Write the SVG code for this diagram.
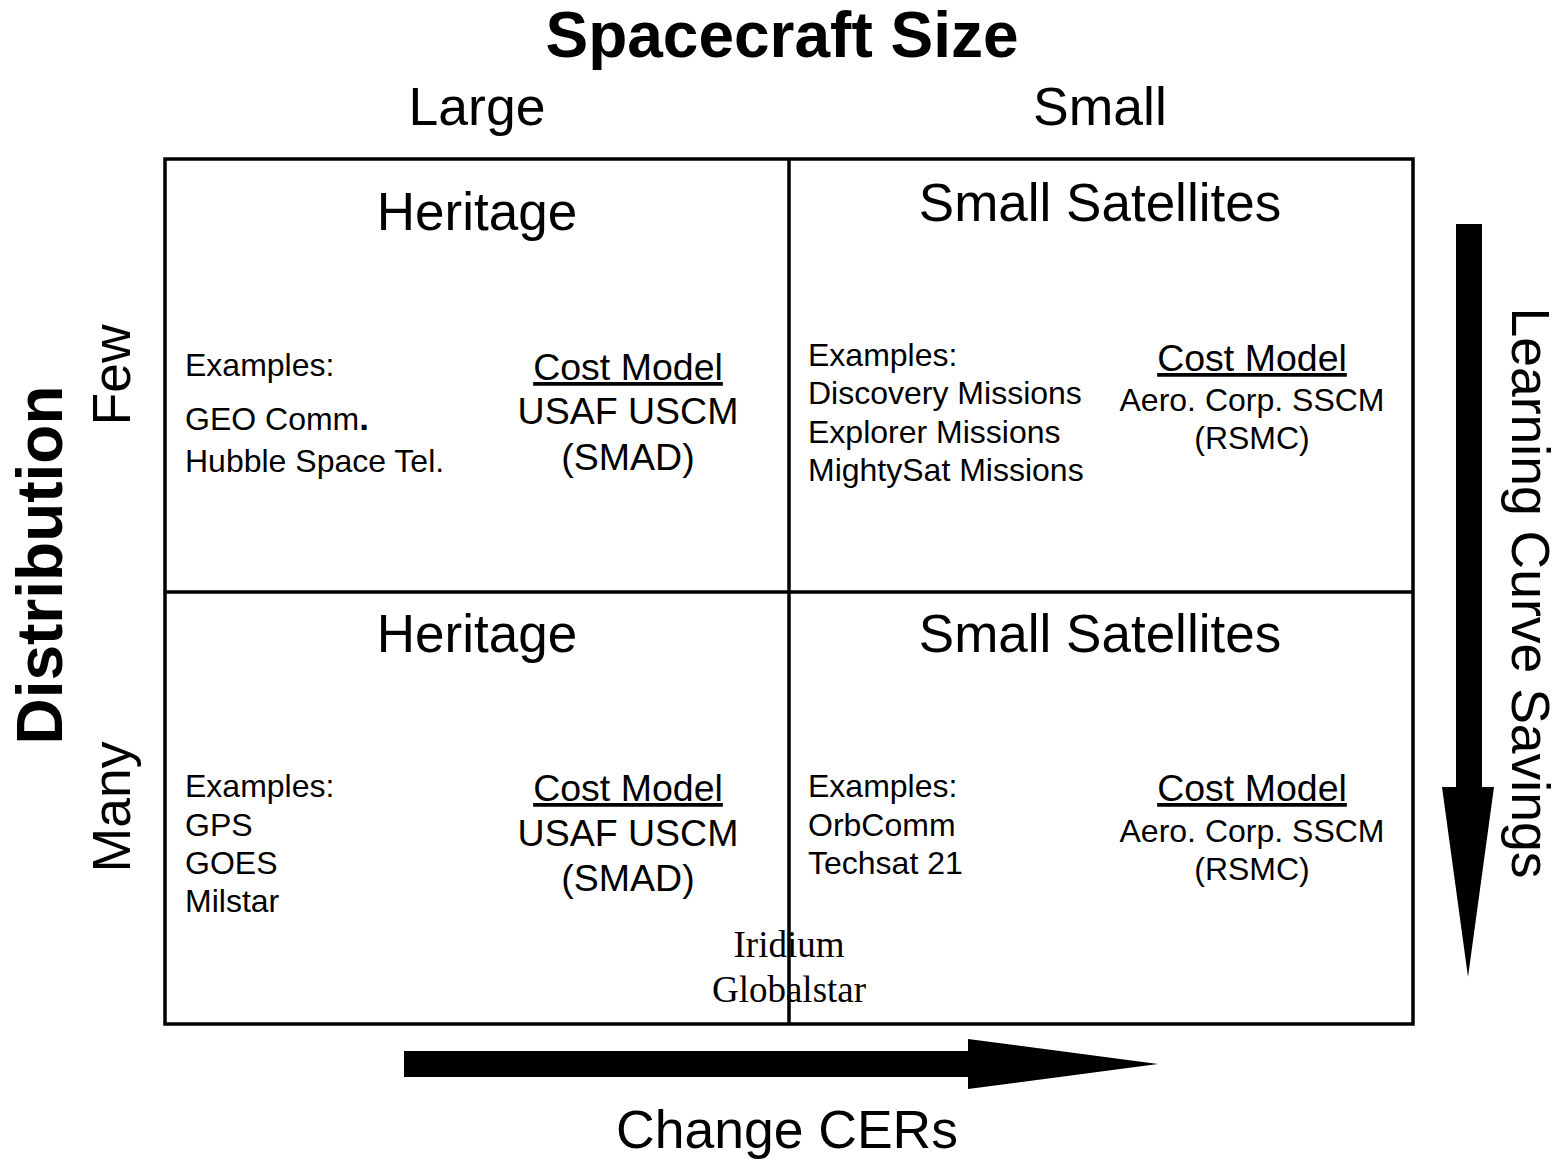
<svg xmlns="http://www.w3.org/2000/svg" width="1560" height="1159" viewBox="0 0 1560 1159">
<style>
text{font-family:"Liberation Sans",Arial,sans-serif;fill:#000}
.title{font-size:64px;font-weight:bold}
.axis{font-size:53.5px}
.head{font-size:53px;text-anchor:middle}
.ex{font-size:32px}
.cm{font-size:37.5px;text-anchor:middle}
.cmu{font-size:37.5px;text-anchor:middle;text-decoration:underline}
.aero{font-size:32px;text-anchor:middle}
.serif{font-family:"Liberation Serif","Times New Roman",serif;font-size:37px;text-anchor:middle}
.grid{fill:none;stroke:#000;stroke-width:3.5}
</style>
<rect width="1560" height="1159" fill="#fff"/>
<g id="grid">
<rect class="grid" x="165" y="159" width="1248" height="865"/>
<line class="grid" x1="789" y1="159" x2="789" y2="1024"/>
<line class="grid" x1="165" y1="592" x2="1413" y2="592"/>
</g>
<g id="axis-labels">
<text class="title" x="782" y="57" text-anchor="middle">Spacecraft Size</text>
<text class="axis" x="477" y="125" text-anchor="middle">Large</text>
<text class="axis" x="1100" y="125" text-anchor="middle">Small</text>
<text class="title" transform="translate(62,565) rotate(-90)" text-anchor="middle">Distribution</text>
<text class="axis" transform="translate(130,375) rotate(-90)" text-anchor="middle">Few</text>
<text class="axis" transform="translate(130,807) rotate(-90)" text-anchor="middle">Many</text>
<text class="axis" transform="translate(1512,593) rotate(90)" text-anchor="middle">Learning Curve Savings</text>
<text class="axis" x="787" y="1148" text-anchor="middle">Change CERs</text>
</g>
<g id="q-top-left">
<text class="head" x="477" y="230">Heritage</text>
<text class="ex" x="185" y="376">Examples:</text>
<text class="ex" x="185" y="430">GEO Comm<tspan font-weight="bold" font-size="35px">.</tspan></text>
<text class="ex" x="185" y="472">Hubble Space Tel.</text>
<text class="cmu" x="628" y="380">Cost Model</text>
<text class="cm" x="628" y="424">USAF USCM</text>
<text class="cm" x="628" y="470">(SMAD)</text>
</g>
<g id="q-top-right">
<text class="head" x="1100" y="221">Small Satellites</text>
<text class="ex" x="808" y="366">Examples:</text>
<text class="ex" x="808" y="404">Discovery Missions</text>
<text class="ex" x="808" y="443">Explorer Missions</text>
<text class="ex" x="808" y="481">MightySat Missions</text>
<text class="cmu" x="1252" y="371">Cost Model</text>
<text class="aero" x="1252" y="411">Aero. Corp. SSCM</text>
<text class="aero" x="1252" y="449">(RSMC)</text>
</g>
<g id="q-bottom-left">
<text class="head" x="477" y="652">Heritage</text>
<text class="ex" x="185" y="797">Examples:</text>
<text class="ex" x="185" y="836">GPS</text>
<text class="ex" x="185" y="874">GOES</text>
<text class="ex" x="185" y="912">Milstar</text>
<text class="cmu" x="628" y="801">Cost Model</text>
<text class="cm" x="628" y="846">USAF USCM</text>
<text class="cm" x="628" y="891">(SMAD)</text>
</g>
<g id="q-bottom-right">
<text class="head" x="1100" y="652">Small Satellites</text>
<text class="ex" x="808" y="797">Examples:</text>
<text class="ex" x="808" y="836">OrbComm</text>
<text class="ex" x="808" y="874">Techsat 21</text>
<text class="cmu" x="1252" y="801">Cost Model</text>
<text class="aero" x="1252" y="842">Aero. Corp. SSCM</text>
<text class="aero" x="1252" y="880">(RSMC)</text>
</g>
<g id="boundary-examples">
<text class="serif" x="789" y="957">Iridium</text>
<text class="serif" x="789" y="1002">Globalstar</text>
</g>
<g id="connectors">
<polygon points="404,1051 968,1051 968,1039 1158,1064 968,1089 968,1077 404,1077" fill="#000"/>
<polygon points="1456,224 1482,224 1482,787 1494,787 1468,977 1442,787 1456,787" fill="#000"/>
</g>
</svg>
